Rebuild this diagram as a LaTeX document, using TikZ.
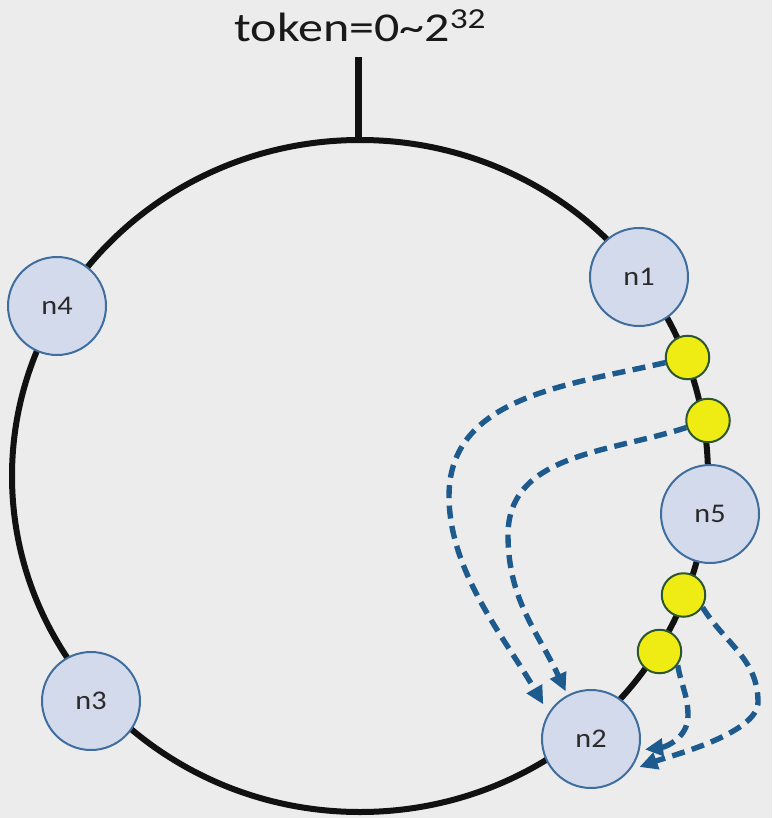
\documentclass[tikz,border=0pt]{standalone}
\usepackage{fontspec}
\setmainfont{Carlito}
\usetikzlibrary{arrows.meta,calc}
\definecolor{bg}{HTML}{ECECEC}
\definecolor{nodefill}{HTML}{D3DAEC}
\definecolor{nodeline}{HTML}{3F6E9E}
\definecolor{yfill}{HTML}{EFEC14}
\definecolor{yline}{HTML}{2C5530}
\definecolor{dashblue}{HTML}{1D5A8E}
\definecolor{ring}{HTML}{111111}
\definecolor{labeltext}{HTML}{2A2A2A}
\begin{document}
\begin{tikzpicture}[x=1pt,y=-1pt,
  server/.style={circle, draw=nodeline, line width=2pt, fill=nodefill,
    minimum size=98pt, inner sep=0pt, text=labeltext,
    font=\fontsize{27}{27}\selectfont},
  vnode/.style={circle, draw=yline, line width=2pt, fill=yfill,
    minimum size=43.5pt, inner sep=0pt},
  move/.style={draw=dashblue, line width=5.4pt, dash pattern=on 13pt off 7.5pt,
    -{Triangle[length=18pt,width=17pt]}}
]
\fill[bg] (0,0) rectangle (772,818);
\useasboundingbox (0,0) rectangle (772,818);

% ring and token marker
\draw[ring, line width=6pt] (360,476) ellipse [x radius=348pt, y radius=336pt];
\coordinate (ringtop) at (358,140);
\coordinate (ticktop) at (358,57);
\draw[ring, line width=7pt] (ticktop) -- (ringtop);
\node[anchor=base, inner sep=0pt, text=black!90, font=\fontsize{41}{41}\selectfont]
  (title) at (360,42) {\scalebox{1.22}[1]{token=0\textasciitilde 2\raisebox{13pt}{\fontsize{29}{29}\selectfont 32}}};

% servers
\node[server] (n1) at (639,277) {\scalebox{1.12}[1]{n1}};
\node[server] (n2) at (591,739) {\scalebox{1.12}[1]{n2}};
\node[server] (n3) at (91,701) {\scalebox{1.12}[1]{n3}};
\node[server] (n4) at (57,306) {\scalebox{1.12}[1]{n4}};
\node[server] (n5) at (710,514) {\scalebox{1.12}[1]{n5}};

% virtual points
\node[vnode] (y1) at (687.5,357.5) {};
\node[vnode] (y2) at (708,420.5) {};
\node[vnode] (y3) at (683.5,595) {};
\node[vnode] (y4) at (659.5,651.5) {};

% migrations
\draw[move] (y1.193) to[out=193,in=90] (449,496)
  to[out=-90,in=120,looseness=0.85] ($(n2.center)+(144:59pt)$);
\draw[move] (y2.198) to[out=198,in=90] (508,535)
  to[out=-90,in=115] ($(n2.center)+(118:54pt)$);
\draw[move] (y4.-37) to[out=-80,in=90] (688,716)
  to[out=-90,in=7] ($(n2.center)+(-11:55pt)$);
\draw[move] (y3.-33) to[out=-58,in=90] (758,702)
  to[out=-90,in=20,looseness=0.6] ($(n2.center)+(-30:56pt)$);
\end{tikzpicture}
\end{document}
